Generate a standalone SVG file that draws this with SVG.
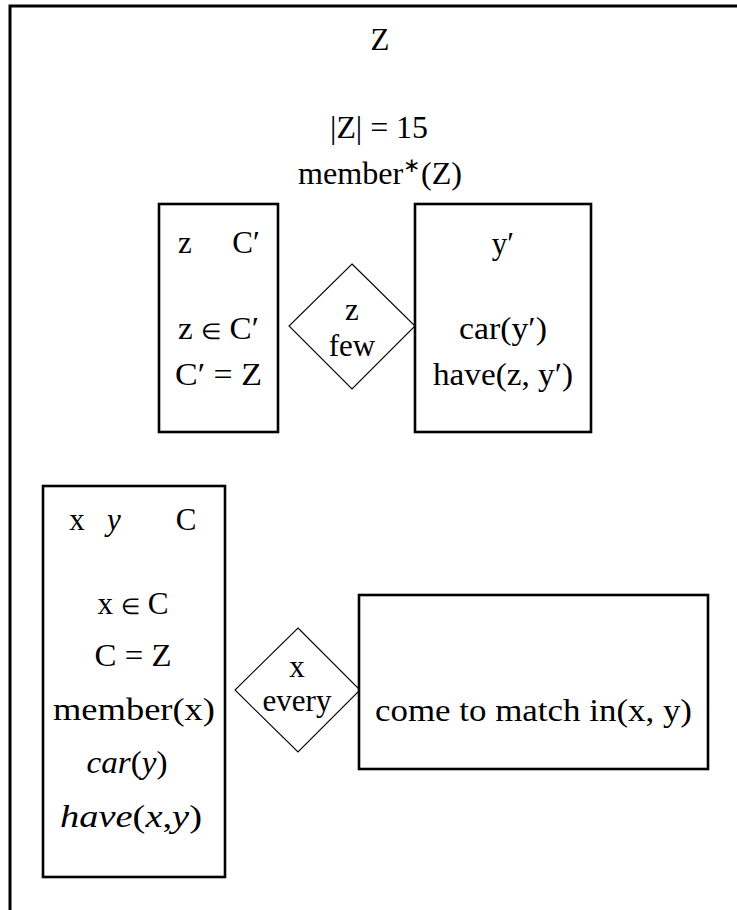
<svg xmlns="http://www.w3.org/2000/svg" width="737" height="910" viewBox="0 0 737 910">
<style>
text{font-family:"Liberation Serif","Times New Roman",serif;font-size:31px;fill:#000;text-anchor:middle}
.box{fill:#fff;stroke:#000;stroke-width:2.6}
.dia{fill:#fff;stroke:#000;stroke-width:1.1}
.frame{fill:none;stroke:#000;stroke-width:3}
.it{font-style:italic}
.el{font-size:22px}
</style>
<rect width="737" height="910" fill="#fff"/>
<g id="frame">
<path class="frame" d="M10,910 V6 H737"/>
<text x="380" y="50">Z</text>
<text x="379" y="138" textLength="98" lengthAdjust="spacingAndGlyphs">|Z| = 15</text>
<text x="380" y="184" textLength="164" lengthAdjust="spacingAndGlyphs">member<tspan font-size="20" dy="-12">∗</tspan><tspan dy="12">(Z)</tspan></text>
</g>
<g id="box1">
<rect class="box" x="159" y="204" width="119" height="228"/>
<text x="185" y="253">z</text>
<text x="246" y="253">C′</text>
<text x="218.5" y="339" textLength="81" lengthAdjust="spacingAndGlyphs">z <tspan class="el">∈</tspan> C′</text>
<text x="218.5" y="385" textLength="87" lengthAdjust="spacingAndGlyphs">C′ = Z</text>
</g>
<g id="diamond1">
<polygon class="dia" points="352,264 415,326 352,389 289,326"/>
<text x="352" y="320">z</text>
<text x="352" y="356">few</text>
</g>
<g id="box2">
<rect class="box" x="415" y="204" width="176" height="228"/>
<text x="503" y="254">y′</text>
<text x="503" y="339" textLength="88" lengthAdjust="spacingAndGlyphs">car(y′)</text>
<text x="503" y="385" textLength="140" lengthAdjust="spacingAndGlyphs">have(z, y′)</text>
</g>
<g id="box3">
<rect class="box" x="43" y="486" width="182" height="391"/>
<text x="77" y="530">x</text>
<text x="114" y="530" class="it">y</text>
<text x="186" y="530">C</text>
<text x="133" y="614" textLength="71" lengthAdjust="spacingAndGlyphs">x <tspan class="el">∈</tspan> C</text>
<text x="133" y="666" textLength="77" lengthAdjust="spacingAndGlyphs">C = Z</text>
<text x="134" y="720" textLength="162" lengthAdjust="spacingAndGlyphs">member(x)</text>
<text x="127" y="773" textLength="81" lengthAdjust="spacingAndGlyphs"><tspan class="it">car</tspan>(<tspan class="it">y</tspan>)</text>
<text x="131" y="827" textLength="142" lengthAdjust="spacingAndGlyphs"><tspan class="it">have</tspan>(<tspan class="it">x</tspan>,<tspan class="it">y</tspan>)</text>
</g>
<g id="diamond2">
<polygon class="dia" points="298,628 360,690 298,752 235,690"/>
<text x="297" y="677">x</text>
<text x="297" y="711">every</text>
</g>
<g id="box4">
<rect class="box" x="359" y="595" width="349" height="174"/>
<text x="533.5" y="721" textLength="317" lengthAdjust="spacingAndGlyphs">come to match in(x, y)</text>
</g>
<g id="connectors"/>
</svg>
